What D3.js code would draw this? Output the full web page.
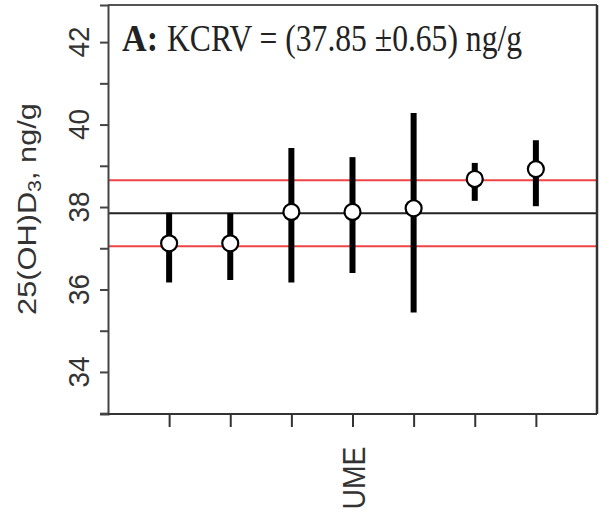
<!DOCTYPE html>
<html>
<head>
<meta charset="utf-8">
<script src="https://cdn.jsdelivr.net/npm/d3@7"></script>
<style>
  html, body { margin: 0; padding: 0; background: #fff; }
  svg { display: block; }
</style>
</head>
<body>
<svg id="chart" width="600" height="516"></svg>
<script>
// Participant results for 25(OH)D3 (ng/g)
const labIndex = [0, 1, 2, 3, 4, 5, 6];
const labNames = ["", "", "", "UME", "", "", ""];
const means = [37.12, 37.12, 37.88, 37.88, 37.97, 38.68, 38.92];
const lower = [36.17, 36.23, 36.17, 36.40, 35.44, 38.15, 38.02];
const upper = [37.86, 37.85, 39.43, 39.21, 40.28, 39.07, 39.62];

// Reference value and its uncertainty band
const kcrv = 37.85;
const kcrvU = 0.65;
const bandLines = [37.05, 38.65];

// Axis ticks
const yTicks = [33, 34, 35, 36, 37, 38, 39, 40, 41, 42];
const yTickLabels = [34, 36, 38, 40, 42];

const svg = d3.select("#chart");
const plotL = 108, plotR = 597, plotT = 5, plotB = 414;

const x = d3.scalePoint().domain(labIndex).range([plotL, plotR]).padding(1);
const y = d3.scaleLinear().domain([32.98, 42.9]).range([plotB, plotT]);

const ink = "#222";

// reference lines
svg.selectAll("line.band").data(bandLines).join("line")
  .attr("class", "band")
  .attr("x1", plotL).attr("x2", plotR)
  .attr("y1", d => y(d)).attr("y2", d => y(d))
  .attr("stroke", "#ee4444").attr("stroke-width", 2);

svg.append("line")
  .attr("x1", plotL).attr("x2", plotR)
  .attr("y1", y(kcrv)).attr("y2", y(kcrv))
  .attr("stroke", ink).attr("stroke-width", 2);

// error bars
svg.selectAll("line.err").data(labIndex).join("line")
  .attr("class", "err")
  .attr("x1", i => x(i)).attr("x2", i => x(i))
  .attr("y1", i => y(lower[i])).attr("y2", i => y(upper[i]))
  .attr("stroke", "#000").attr("stroke-width", 6);

// result markers
svg.selectAll("circle.pt").data(labIndex).join("circle")
  .attr("class", "pt")
  .attr("cx", i => x(i)).attr("cy", i => y(means[i]))
  .attr("r", 8)
  .attr("fill", "#fff").attr("stroke", "#000").attr("stroke-width", 2.2);

// frame
svg.append("line").attr("x1", plotL).attr("x2", plotR).attr("y1", plotT).attr("y2", plotT)
  .attr("stroke", "#555").attr("stroke-width", 2);
svg.append("line").attr("x1", plotR).attr("x2", plotR).attr("y1", plotT).attr("y2", plotB)
  .attr("stroke", "#333").attr("stroke-width", 2.5);

// y axis
const yAxis = svg.append("g")
  .attr("transform", `translate(${plotL},0)`)
  .call(d3.axisLeft(y).tickValues(yTicks).tickSize(8).tickFormat(""));
yAxis.select(".domain").attr("stroke", "#444").attr("stroke-width", 2);
yAxis.selectAll(".tick line").attr("stroke", "#444").attr("stroke-width", 2);

svg.selectAll("text.ylab").data(yTickLabels).join("text")
  .attr("class", "ylab")
  .attr("transform", d => `translate(89,${y(d)}) rotate(-90)`)
  .attr("text-anchor", "middle")
  .attr("font-family", "Liberation Sans, Arial, sans-serif")
  .attr("font-size", 30)
  .attr("textLength", 31)
  .attr("lengthAdjust", "spacingAndGlyphs")
  .attr("fill", "#333")
  .text(d => d);

// x axis
const xAxis = svg.append("g")
  .attr("transform", `translate(0,${plotB})`)
  .call(d3.axisBottom(x).tickSize(13).tickFormat(""));
xAxis.select(".domain").attr("d", `M${plotL},0H${plotR}`).attr("stroke", "#333").attr("stroke-width", 2);
xAxis.selectAll(".tick line").attr("stroke", "#333").attr("stroke-width", 2);

svg.selectAll("text.xlab").data(labIndex.filter(i => labNames[i] !== "")).join("text")
  .attr("class", "xlab")
  .attr("transform", i => `translate(${x(i) + 12},478) rotate(-90)`)
  .attr("text-anchor", "middle")
  .attr("font-family", "Liberation Sans, Arial, sans-serif")
  .attr("font-size", 32)
  .attr("textLength", 63)
  .attr("lengthAdjust", "spacingAndGlyphs")
  .attr("fill", "#333")
  .text(i => labNames[i]);

// y axis title
const yt = svg.append("text")
  .attr("transform", "translate(36,209) rotate(-90)")
  .attr("text-anchor", "middle")
  .attr("font-family", "Liberation Sans, Arial, sans-serif")
  .attr("font-size", 26)
  .attr("textLength", 212)
  .attr("lengthAdjust", "spacingAndGlyphs")
  .attr("fill", "#333");
yt.append("tspan").text("25(OH)D");
yt.append("tspan").attr("font-size", 18).attr("dy", 5).text("3");
yt.append("tspan").attr("dy", -5).text(", ng/g");

// panel title: bold panel letter, then the reference value
svg.append("text")
  .attr("x", 122).attr("y", 51)
  .attr("font-family", "Liberation Serif, Times New Roman, serif")
  .attr("font-size", 38)
  .attr("font-weight", "bold")
  .attr("textLength", 36)
  .attr("lengthAdjust", "spacingAndGlyphs")
  .attr("fill", ink)
  .text("A:");
svg.append("text")
  .attr("x", 167).attr("y", 51)
  .attr("font-family", "Liberation Serif, Times New Roman, serif")
  .attr("font-size", 38)
  .attr("textLength", 355)
  .attr("lengthAdjust", "spacingAndGlyphs")
  .attr("fill", ink)
  .text(`KCRV = (${kcrv.toFixed(2)} \u00B1${kcrvU.toFixed(2)}) ng/g`);
</script>
</body>
</html>
